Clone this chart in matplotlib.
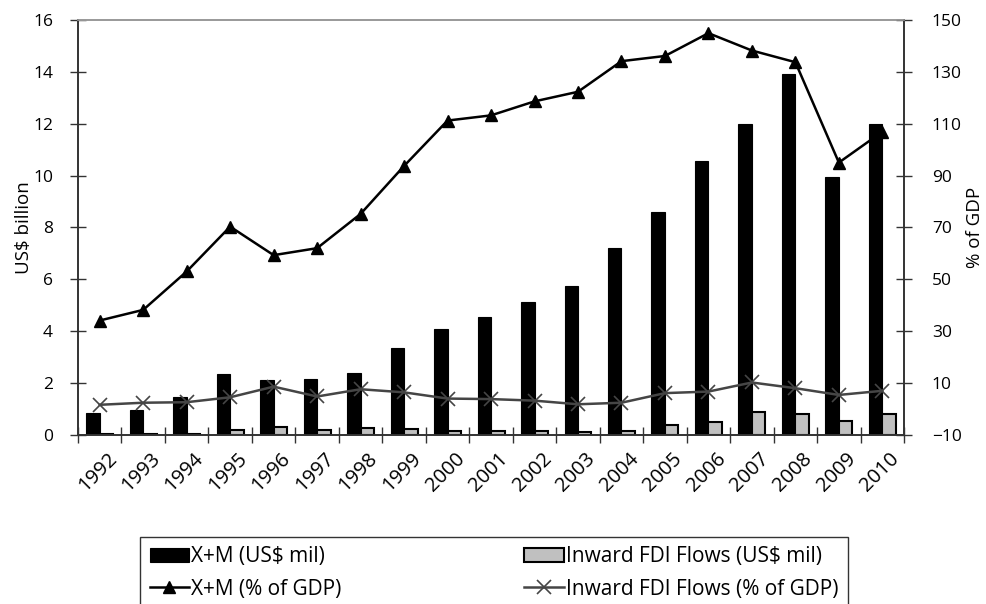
import numpy as np
import matplotlib
matplotlib.use("Agg")
import matplotlib.pyplot as plt
import matplotlib.transforms as mtransforms
from matplotlib.ticker import MultipleLocator, FixedLocator

plt.rcParams['font.family'] = ['Open Sans', 'DejaVu Sans']

# Data
years = [str(y) for y in range(1992, 2011)]
trade_bil = [0.85, 0.95, 1.46, 2.36, 2.12, 2.16, 2.39, 3.35, 4.1, 4.55, 5.13, 5.74,
             7.2, 8.6, 10.57, 11.99, 13.92, 9.96, 12.0]
fdi_bil = [0.05, 0.05, 0.05, 0.17, 0.3, 0.18, 0.25, 0.22, 0.15, 0.15, 0.15, 0.12,
           0.14, 0.38, 0.5, 0.88, 0.82, 0.55, 0.8]
trade_pct = [34.1, 38.2, 53.0, 70.3, 59.3, 62.0, 75.2, 93.7, 111.2, 113.2, 118.6,
             122.3, 134.1, 136.1, 144.9, 138.2, 133.7, 95.0, 106.9]
fdi_pct = [1.6, 2.4, 2.6, 4.5, 8.6, 4.8, 7.6, 6.4, 4.0, 3.8, 3.2, 1.8, 2.4, 6.1,
           6.7, 10.2, 8.0, 5.4, 7.0]

x = np.arange(len(years))
w = 0.31

fig = plt.figure(figsize=(9.87, 6.04), dpi=100)
ax = fig.add_axes([0.079, 0.280, 0.837, 0.687])
ax2 = ax.twinx()

b1 = ax.bar(x - w / 2, trade_bil, w, color='black', edgecolor='black', linewidth=0.8,
            label='X+M (US$ mil)')
b2 = ax.bar(x + w / 2, fdi_bil, w, color='#c0c0c0', edgecolor='black', linewidth=1.5,
            label='Inward FDI Flows (US$ mil)')

l1, = ax2.plot(x, trade_pct, color='black', lw=1.8, marker='^', markersize=9,
               label='X+M (% of GDP)')
l2, = ax2.plot(x, fdi_pct, color='#454545', lw=1.8, marker='x', markersize=10,
               markeredgewidth=1.2, label='Inward FDI Flows (% of GDP)')

ax.set_xlim(-0.5, len(years) - 0.5)
ax.set_ylim(0, 16)
ax.yaxis.set_major_locator(MultipleLocator(2))
ax2.set_ylim(-10, 150)
ax2.set_yticks(np.arange(-10, 151, 20))

ax.set_xticks(x)
ax.set_xticklabels(years, rotation=45, ha='right', rotation_mode='anchor', fontsize=14.5)
ax.tick_params(axis='x', length=0, pad=10)
shift = mtransforms.ScaledTranslation(7 / 100, 0, fig.dpi_scale_trans)
for lab in ax.get_xticklabels():
    lab.set_transform(lab.get_transform() + shift)
ax.xaxis.set_minor_locator(FixedLocator(np.arange(-0.5, len(years), 1.0)))
ax.tick_params(axis='x', which='minor', direction='inout', length=12, width=1, color='#333333')

ax.tick_params(axis='y', direction='inout', length=12, width=1, color='#333333',
               labelsize=12.5, pad=12)
ax2.tick_params(axis='y', direction='inout', length=12, width=1, color='#333333',
                labelsize=12.5, pad=14)

ax.set_ylabel('US$ billion', fontsize=13.5, labelpad=0)
ax2.set_ylabel('% of GDP', fontsize=13.5, labelpad=3)

for a in (ax, ax2):
    for s in ('left', 'right', 'bottom'):
        a.spines[s].set_color('#333333')
        a.spines[s].set_linewidth(1.2)
    a.spines['top'].set_color('#999999')
    a.spines['top'].set_linewidth(1.2)

ax.set_zorder(ax2.get_zorder() - 1)
ax2.patch.set_visible(False)

leg = fig.legend([b1, l1, b2, l2],
                 [b1.get_label(), l1.get_label(), b2.get_label(), l2.get_label()],
                 ncol=2, loc='upper left', mode='expand',
                 bbox_to_anchor=(0.142, 0.111, 0.717, 0.0),
                 frameon=True, fancybox=False, edgecolor='black', fontsize=15,
                 handlelength=1.9, handleheight=0.7, handletextpad=0.1,
                 labelspacing=0.55, borderpad=0.45, borderaxespad=0)
leg.get_frame().set_linewidth(1.0)

fig.savefig('out.png', dpi=100)
